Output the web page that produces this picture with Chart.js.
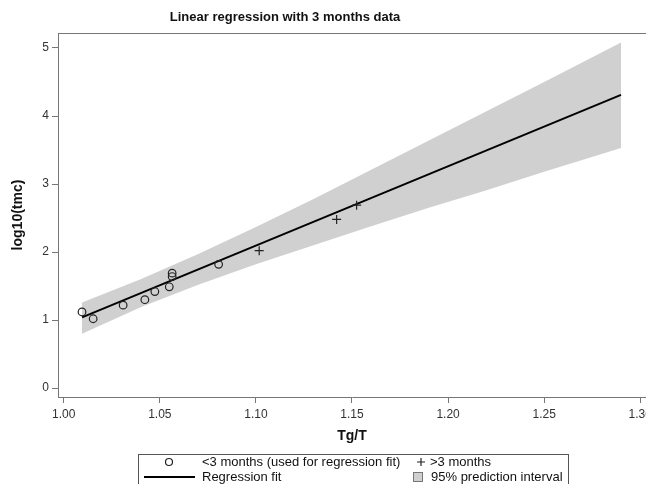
<!DOCTYPE html>
<html>
<head>
<meta charset="utf-8">
<script src="https://cdn.jsdelivr.net/npm/chart.js@4"></script>
<style>
    html, body { margin: 0; padding: 0; background: #fff; }
    canvas { display: block; }
</style>
</head>
<body>
<canvas id="chart" width="646" height="484"></canvas>
<script>
// values
const under3X = [1.0095, 1.0153, 1.0309, 1.0422, 1.0474, 1.0549, 1.0564, 1.0564, 1.0806];
const under3Y = [1.12, 1.02, 1.22, 1.30, 1.42, 1.49, 1.69, 1.64, 1.82];
const over3X = [1.1017, 1.1420, 1.1524];
const over3Y = [2.02, 2.48, 2.69];
const fitX = [1.0095, 1.29];
const fitY = [1.04, 4.31];
const bandX = [1.0095, 1.04, 1.07, 1.10, 1.13, 1.16, 1.19, 1.22, 1.25, 1.29];
const bandUpper = [1.26, 1.60, 1.97, 2.37, 2.78, 3.21, 3.64, 4.07, 4.50, 5.08];
const bandLower = [0.80, 1.19, 1.52, 1.82, 2.10, 2.38, 2.65, 2.91, 3.18, 3.53];
const xTicks = [1.00, 1.05, 1.10, 1.15, 1.20, 1.25, 1.30];
const yTicks = [0, 1, 2, 3, 4, 5];

const FONT = "Arial, 'Liberation Sans', sans-serif";
const AXIS_COLOR = "#777";
const BAND_COLOR = "#d0d0d0";

const toPoints = (xs, ys) => xs.map((x, i) => ({ x: x, y: ys[i] }));

const framePlugin = {
    id: "frameAndLegend",
    afterDraw(chart) {
        const ctx = chart.ctx;
        const area = chart.chartArea;
        ctx.save();

        // top frame line
        ctx.strokeStyle = AXIS_COLOR;
        ctx.lineWidth = 1;
        ctx.beginPath();
        ctx.moveTo(area.left, area.top + 0.5);
        ctx.lineTo(area.right, area.top + 0.5);
        ctx.stroke();

        // title
        ctx.fillStyle = "#111";
        ctx.font = "bold 13px " + FONT;
        ctx.textAlign = "center";
        ctx.textBaseline = "middle";
        ctx.fillText("Linear regression with 3 months data", 285, 17);

        // legend box
        ctx.strokeStyle = "#555";
        ctx.strokeRect(138.5, 454.5, 430, 40);

        ctx.font = "13px " + FONT;
        ctx.textAlign = "left";
        ctx.fillStyle = "#111";
        ctx.fillText("<3 months (used for regression fit)", 202, 462);
        ctx.fillText(">3 months", 430, 462);
        ctx.fillText("Regression fit", 202, 477);
        ctx.fillText("95% prediction interval", 431, 477);

        ctx.strokeStyle = "#222";
        ctx.lineWidth = 1.2;
        ctx.beginPath();
        ctx.arc(169, 462, 3.5, 0, Math.PI * 2);
        ctx.stroke();

        ctx.beginPath();
        ctx.moveTo(417, 462);
        ctx.lineTo(425, 462);
        ctx.moveTo(421, 458);
        ctx.lineTo(421, 466);
        ctx.stroke();

        ctx.lineWidth = 2;
        ctx.strokeStyle = "#000";
        ctx.beginPath();
        ctx.moveTo(144, 477);
        ctx.lineTo(195, 477);
        ctx.stroke();

        ctx.fillStyle = BAND_COLOR;
        ctx.fillRect(413, 472, 10, 10);
        ctx.strokeStyle = "#777";
        ctx.lineWidth = 1;
        ctx.strokeRect(413.5, 472.5, 9, 9);

        ctx.restore();
    }
};

new Chart(document.getElementById("chart"), {
    type: "scatter",
    data: {
        datasets: [
            {
                label: "<3 months (used for regression fit)",
                data: toPoints(under3X, under3Y),
                pointStyle: "circle",
                pointRadius: 3.8,
                pointBorderWidth: 1.2,
                pointBorderColor: "#222",
                pointBackgroundColor: "rgba(0,0,0,0)"
            },
            {
                label: ">3 months",
                data: toPoints(over3X, over3Y),
                pointStyle: "cross",
                pointRadius: 4.5,
                pointBorderWidth: 1.2,
                pointBorderColor: "#222"
            },
            {
                label: "Regression fit",
                data: toPoints(fitX, fitY),
                showLine: true,
                borderColor: "#000",
                borderWidth: 2,
                pointRadius: 0
            },
            {
                label: "lower",
                data: toPoints(bandX, bandLower),
                showLine: true,
                borderColor: "rgba(0,0,0,0)",
                borderWidth: 0,
                pointRadius: 0,
                fill: false
            },
            {
                label: "95% prediction interval",
                data: toPoints(bandX, bandUpper),
                showLine: true,
                borderColor: "rgba(0,0,0,0)",
                borderWidth: 0,
                pointRadius: 0,
                backgroundColor: BAND_COLOR,
                fill: "-1"
            }
        ]
    },
    options: {
        responsive: false,
        animation: false,
        devicePixelRatio: 1,
        layout: {
            autoPadding: false,
            padding: { top: 33, left: 0, right: 0, bottom: 0 }
        },
        plugins: {
            legend: { display: false },
            tooltip: { enabled: false },
            title: { display: false }
        },
        scales: {
            x: {
                type: "linear",
                min: 0.997,
                max: 1.303,
                afterBuildTicks: (scale) => {
                    scale.ticks = xTicks.map((v) => ({ value: v }));
                },
                afterFit: (scale) => {
                    scale.height = 87;
                    scale.paddingLeft = 0;
                    scale.paddingRight = 0;
                },
                ticks: {
                    callback: (value) => value.toFixed(2),
                    color: "#333",
                    font: { family: FONT, size: 12 },
                    padding: 4,
                    maxRotation: 0,
                    autoSkip: false
                },
                grid: {
                    drawOnChartArea: false,
                    drawTicks: true,
                    tickLength: 6,
                    color: AXIS_COLOR
                },
                border: { color: AXIS_COLOR, width: 1 },
                title: {
                    display: true,
                    text: "Tg/T",
                    color: "#111",
                    font: { family: FONT, size: 14, weight: "bold" },
                    padding: { top: 0, bottom: 39 }
                }
            },
            y: {
                type: "linear",
                min: -0.13,
                max: 5.22,
                afterBuildTicks: (scale) => {
                    scale.ticks = yTicks.map((v) => ({ value: v }));
                },
                afterFit: (scale) => {
                    scale.width = 58;
                    scale.paddingTop = 0;
                    scale.paddingBottom = 0;
                },
                ticks: {
                    color: "#333",
                    font: { family: FONT, size: 12 },
                    padding: 3,
                    autoSkip: false
                },
                grid: {
                    drawOnChartArea: false,
                    drawTicks: true,
                    tickLength: 6,
                    color: AXIS_COLOR
                },
                border: { color: AXIS_COLOR, width: 1 },
                title: {
                    display: true,
                    text: "log10(tmc)",
                    color: "#111",
                    font: { family: FONT, size: 14, weight: "bold" },
                    padding: { top: 10, bottom: 0 }
                }
            }
        }
    },
    plugins: [framePlugin]
});
</script>
</body>
</html>
